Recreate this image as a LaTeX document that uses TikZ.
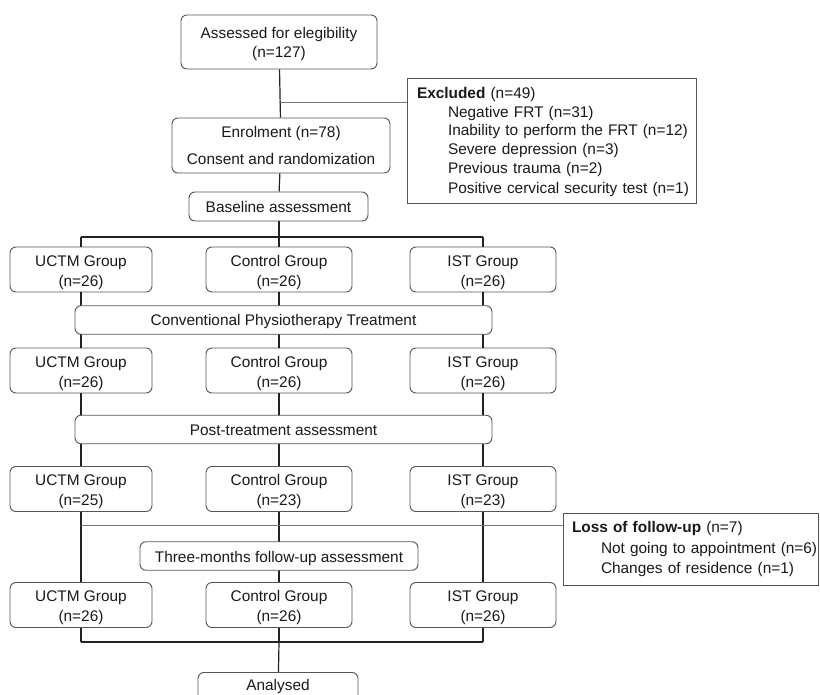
\documentclass[tikz,border=0pt]{standalone}
\usepackage{fontspec}
\setmainfont{Liberation Sans}
\definecolor{txt}{HTML}{1A1A1A}
\definecolor{bord}{HTML}{555555}
\definecolor{lin}{HTML}{222222}
\definecolor{thin}{HTML}{777777}
\newcommand{\itm}[1]{\mbox{\hspace*{31pt}#1}}
\newcommand{\itmb}[1]{\mbox{\hspace*{29pt}#1}}
\newcommand{\gtxt}[2]{\rule{0pt}{17pt}#1\\#2}
\begin{document}
\begin{tikzpicture}[x=1pt,y=-1pt,
  every node/.style={font=\fontsize{15.4}{20}\selectfont, text=txt},
  box/.style={draw=bord, line width=0.9pt, rounded corners=6pt, fill=white,
    align=center, inner sep=0pt},
  grp/.style={box, minimum height=45pt},
  wide/.style={box, minimum height=28.5pt, text height=15pt, text depth=3pt},
  sqbox/.style={draw=bord, line width=0.9pt, fill=white, align=left, inner sep=0pt},
  conn/.style={draw=lin, line width=1.2pt},
  branch/.style={draw=thin, line width=0.8pt}]
\useasboundingbox (0,0) rectangle (820,695);
\clip (0,0) rectangle (820,695);
\fill[white] (0,0) rectangle (820,695);

\coordinate (j1) at (279,237);
\coordinate (j1l) at (81,237);
\coordinate (j1r) at (483,237);
\coordinate (j2) at (279,642);
\coordinate (j2l) at (81,642);
\coordinate (j2r) at (483,642);
\coordinate (b1) at (279,102);
\coordinate (b2) at (81,525);

% top part
\node[box, minimum width=196pt, minimum height=54pt] (top) at (279,42)
  {\rule{0pt}{15pt}Assessed for elegibility\\[-1pt](n=127)};
\node[box, minimum width=218pt, minimum height=55pt] (enrol) at (281,145.5)
  {Enrolment (n=78)\\[7pt]Consent and randomization};
\node[box, minimum width=179pt, minimum height=29pt, text height=15pt, text depth=3pt] (base) at (278.5,206.5)
  {Baseline assessment};
\node[sqbox, minimum width=289pt, minimum height=125pt, text width=269pt] (excl) at (551.5,140.5)
  {\fontsize{15.4}{18.7}\selectfont\mbox{\rule{0pt}{14pt}\textbf{Excluded} (n=49)}\\%
   \itm{Negative FRT (n=31)}\\%
   \itm{Inability to perform the FRT (n=12)}\\%
   \itm{Severe depression (n=3)}\\%
   \itm{Previous trauma (n=2)}\\%
   \itm{Positive cervical security test (n=1)}};

% group rows
\node[grp, minimum width=142pt] (u1) at (81,269.5) {\gtxt{UCTM Group}{(n=26)}};
\node[grp, minimum width=146pt] (c1) at (279,269.5) {\gtxt{Control Group}{(n=26)}};
\node[grp, minimum width=146pt] (i1) at (483,269.5) {\gtxt{IST Group}{(n=26)}};

\node[grp, minimum width=142pt] (u2) at (81,370.5) {\gtxt{UCTM Group}{(n=26)}};
\node[grp, minimum width=146pt] (c2) at (279,370.5) {\gtxt{Control Group}{(n=26)}};
\node[grp, minimum width=146pt] (i2) at (483,370.5) {\gtxt{IST Group}{(n=26)}};

\node[grp, minimum width=142pt] (u3) at (81,489) {\gtxt{UCTM Group}{(n=25)}};
\node[grp, minimum width=146pt] (c3) at (279,489) {\gtxt{Control Group}{(n=23)}};
\node[grp, minimum width=146pt] (i3) at (483,489) {\gtxt{IST Group}{(n=23)}};

\node[grp, minimum width=142pt] (u4) at (81,605) {\gtxt{UCTM Group}{(n=26)}};
\node[grp, minimum width=146pt] (c4) at (279,605) {\gtxt{Control Group}{(n=26)}};
\node[grp, minimum width=146pt] (i4) at (483,605) {\gtxt{IST Group}{(n=26)}};

\node[sqbox, minimum width=255pt, minimum height=72pt, text width=237pt] (loss) at (690.5,549)
  {\fontsize{15.4}{21}\selectfont\mbox{\textbf{Loss of follow-up} (n=7)}\\%
   \itmb{Not going to appointment (n=6)}\\%
   \itmb{Changes of residence (n=1)}};

\node[box, minimum width=160pt, minimum height=50pt, anchor=north] (anal) at (278,672)
  {Analysed\\[6pt]\phantom{x}};

% connectors
\draw[conn] (top) -- (enrol);
\draw[conn] (enrol) -- (base);
\draw[branch] (b1) -- (b1 -| excl.west);
\draw[conn] (base.south -| j1) -- (j1);
\draw[conn] (j1l) -- (j1r);
\draw[conn] (j1l) -- (u1.north);
\draw[conn] (j1) -- (c1.north);
\draw[conn] (j1r) -- (i1.north);
\draw[conn] (u1) -- (u2);
\draw[conn] (c1) -- (c2);
\draw[conn] (i1) -- (i2);
\draw[conn] (u2) -- (u3);
\draw[conn] (c2) -- (c3);
\draw[conn] (i2) -- (i3);
\draw[conn] (u3) -- (u4);
\draw[conn] (c3) -- (c4);
\draw[conn] (i3) -- (i4);
\draw[branch] (b2) -- (b2 -| loss.west);
\draw[conn] (u4) -- (j2l);
\draw[conn] (c4) -- (j2);
\draw[conn] (i4) -- (j2r);
\draw[conn] (j2l) -- (j2r);
\draw[conn] (j2) -- (anal);

% boxes crossed by the column lines, drawn on top
\node[wide, minimum width=417pt] (conv) at (283.5,320) {Conventional Physiotherapy Treatment};
\node[wide, minimum width=417pt] (post) at (283.5,429.5) {Post-treatment assessment};
\node[wide, minimum width=278pt] (three) at (279,556) {Three-months follow-up assessment};
\end{tikzpicture}
\end{document}
